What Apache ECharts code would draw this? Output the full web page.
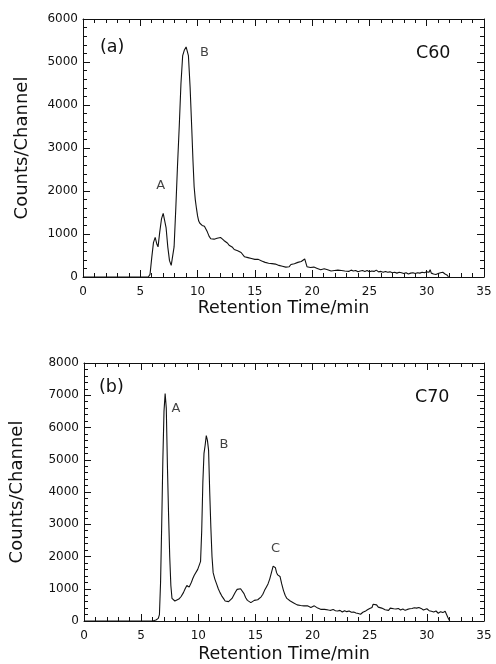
<!DOCTYPE html>
<html>
<head>
<meta charset="utf-8">
<script src="https://cdn.jsdelivr.net/npm/echarts@6/dist/echarts.min.js"></script>
<style>
html,body{margin:0;padding:0;background:#fff;}
#chart{width:496px;height:664px;}
</style>
</head>
<body>
<div id="chart"></div>
<script>
// ---- Data ----
const xTicks = [0, 5, 10, 15, 20, 25, 30, 35];
const c60Ticks = [0, 1000, 2000, 3000, 4000, 5000, 6000];
const c70Ticks = [0, 1000, 2000, 3000, 4000, 5000, 6000, 7000, 8000];

const c60Time = [0,5.7,5.85,6.0,6.15,6.3,6.45,6.55,6.7,6.85,7.0,7.1,7.25,7.4,7.55,7.7,7.8,7.95,8.1,8.25,8.4,8.55,8.7,8.85,9.0,9.1,9.2,9.35,9.5,9.6,9.7,9.8,9.9,10.0,10.1,10.2,10.3,10.4,10.5,10.6,10.7,10.85,11.0,11.15,11.3,11.45,11.55,11.7,11.85,12.0,12.15,12.3,12.45,12.6,12.75,12.9,13.05,13.2,13.35,13.5,13.65,13.8,13.95,14.1,14.25,14.4,14.55,14.7,14.85,15.0,15.15,15.3,15.45,15.6,15.75,15.9,16.05,16.2,16.35,16.5,16.65,16.8,16.95,17.1,17.25,17.4,17.55,17.7,17.85,18.0,18.15,18.3,18.45,18.6,18.75,18.9,19.05,19.2,19.35,19.45,19.55,19.7,19.85,20.0,20.15,20.3,20.45,20.6,20.75,20.9,21.05,21.2,21.35,21.5,21.65,21.8,21.95,22.1,22.25,22.4,22.55,22.7,22.85,23.0,23.2,23.4,23.6,23.8,24.0,24.2,24.4,24.6,24.8,25.0,25.2,25.4,25.6,25.8,26.0,26.2,26.4,26.6,26.8,27.0,27.2,27.4,27.6,27.8,28.0,28.2,28.4,28.6,28.8,29.0,29.2,29.4,29.6,29.8,30.0,30.2,30.3,30.4,30.6,30.8,31.0,31.2,31.4,31.6,31.8,31.9];
const c60Counts = [0,0,60,450,800,920,760,700,1050,1350,1480,1450,1150,700,380,270,290,700,1600,2600,3500,4500,5150,5280,5350,5320,5150,4400,3400,2700,2100,1800,1600,1420,1300,1250,1270,1200,1170,1180,1130,1050,950,890,870,880,850,900,920,920,900,850,810,790,740,720,690,640,650,610,600,570,540,470,480,450,460,430,440,410,400,410,380,370,350,340,330,320,300,310,350,300,290,270,260,250,240,230,230,240,290,320,310,350,340,370,360,380,420,400,240,230,220,210,230,190,200,210,170,180,190,160,170,150,140,160,150,170,160,180,150,170,140,160,130,160,140,150,120,140,150,130,150,120,140,130,160,120,130,110,130,110,120,100,110,90,110,100,80,100,70,90,100,80,100,90,110,100,120,110,170,90,70,60,80,100,110,70,40,0];

const c70Time = [0,6.0,6.3,6.5,6.6,6.7,6.8,6.9,7.0,7.1,7.2,7.3,7.4,7.5,7.6,7.7,7.8,7.95,8.1,8.3,8.5,8.7,8.85,9.0,9.1,9.2,9.3,9.4,9.5,9.65,9.8,9.95,10.1,10.2,10.3,10.4,10.5,10.6,10.7,10.8,10.9,11.0,11.1,11.2,11.3,11.45,11.6,11.75,11.9,12.05,12.2,12.35,12.5,12.65,12.8,12.95,13.1,13.25,13.4,13.55,13.7,13.85,14.0,14.15,14.3,14.45,14.6,14.75,14.9,15.05,15.2,15.35,15.5,15.65,15.8,15.95,16.1,16.25,16.4,16.55,16.65,16.75,16.85,16.95,17.05,17.15,17.3,17.45,17.6,17.75,17.9,18.05,18.2,18.35,18.5,18.65,18.8,18.95,19.1,19.25,19.4,19.55,19.7,19.85,20.0,20.15,20.3,20.45,20.6,20.75,20.9,21.05,21.2,21.4,21.6,21.8,22.0,22.2,22.4,22.6,22.8,23.0,23.2,23.4,23.6,23.8,24.0,24.2,24.4,24.6,24.8,25.0,25.2,25.3,25.45,25.6,25.75,25.9,26.05,26.2,26.35,26.5,26.65,26.8,26.95,27.1,27.3,27.5,27.7,27.9,28.1,28.3,28.5,28.7,28.9,29.1,29.3,29.5,29.7,29.85,30.0,30.2,30.4,30.6,30.8,31.0,31.2,31.4,31.6,31.75,31.85,32.0];
const c70Counts = [0,0,30,80,200,1200,3000,5000,6500,7050,6600,4800,3300,2000,1100,700,640,620,630,680,760,880,1000,1100,1150,1050,1000,1200,1300,1420,1470,1600,1750,1850,2800,4300,5200,5450,5750,5600,5300,4000,2900,2000,1500,1300,1150,1000,880,780,700,620,590,600,640,700,800,900,980,1020,1000,960,850,720,640,580,570,590,640,680,660,710,750,830,950,1050,1150,1300,1500,1700,1740,1650,1500,1430,1430,1380,1150,950,800,700,640,620,580,560,530,500,470,480,450,470,450,470,480,420,440,470,410,400,390,360,380,360,370,340,330,360,320,310,330,280,320,290,310,270,280,250,230,210,270,300,350,390,420,520,460,500,430,470,400,440,350,380,330,400,360,380,370,390,340,370,330,360,380,390,410,400,420,390,340,300,380,320,300,280,310,240,290,260,300,250,100,0];

const c60Peaks = ['A', 'B'];
const c60PeakPos = [[6.78, 2120], [10.6, 5220]];
const c70Peaks = ['A', 'B', 'C'];
const c70PeakPos = [[8.05, 6590], [12.25, 5460], [16.75, 2250]];

// ---- Chart ----
const FONT = 'DejaVu Sans';
const INK = '#111';
const zip = (a, b) => a.map((v, i) => [v, b[i]]);
const plain = v => String(v);

function frameAxis(gridIndex, min, max, interval, position) {
  return {
    type: 'value', gridIndex: gridIndex, min: min, max: max, interval: interval, position: position,
    axisLine: { show: true, onZero: false, lineStyle: { color: INK, width: 1 } },
    axisTick: { show: true, inside: true, length: 7, lineStyle: { color: INK, width: 1 } },
    minorTick: { show: true, splitNumber: 5, length: 4, lineStyle: { color: INK, width: 1 } },
    splitLine: { show: false },
    minorSplitLine: { show: false }
  };
}
function xAxisPair(gridIndex, gap) {
  const lo = xTicks[0], hi = xTicks[xTicks.length - 1];
  const bottom = frameAxis(gridIndex, lo, hi, 5, 'bottom');
  bottom.name = 'Retention Time/min';
  bottom.nameLocation = 'middle';
  bottom.nameGap = gap;
  bottom.nameTextStyle = { fontFamily: FONT, fontSize: 17.5, color: INK };
  bottom.axisLabel = { show: true, margin: 9, fontFamily: FONT, fontSize: 12, color: INK, formatter: plain };
  const top = frameAxis(gridIndex, lo, hi, 5, 'top');
  top.axisLabel = { show: false };
  return [bottom, top];
}
function yAxisPair(gridIndex, ticks, gap) {
  const lo = ticks[0], hi = ticks[ticks.length - 1];
  const left = frameAxis(gridIndex, lo, hi, 1000, 'left');
  left.name = 'Counts/Channel';
  left.nameLocation = 'middle';
  left.nameGap = gap;
  left.nameTextStyle = { fontFamily: FONT, fontSize: 18, color: INK };
  left.axisLabel = { show: true, margin: 5, fontFamily: FONT, fontSize: 12, color: INK, formatter: plain };
  const right = frameAxis(gridIndex, lo, hi, 1000, 'right');
  right.axisLabel = { show: false };
  return [left, right];
}

const peakLabel = (names, pos, xi, yi) => ({
  type: 'scatter', xAxisIndex: xi, yAxisIndex: yi, symbolSize: 0, silent: true, z: 5,
  data: pos.map((p, i) => ({ value: p, name: names[i] })),
  label: { show: true, position: 'inside', formatter: '{b}', fontFamily: FONT, fontSize: 13, color: INK }
});

const option = {
  animation: false,
  backgroundColor: '#fff',
  grid: [
    { left: 83, width: 401, top: 19, height: 258 },
    { left: 83, width: 401, top: 363, height: 258 }
  ],
  xAxis: [...xAxisPair(0, 22), ...xAxisPair(1, 24)],
  yAxis: [...yAxisPair(0, c60Ticks, 52), ...yAxisPair(1, c70Ticks, 58)],
  series: [
    { type: 'line', name: 'C60', xAxisIndex: 0, yAxisIndex: 0, data: zip(c60Time, c60Counts),
      showSymbol: false, lineStyle: { color: INK, width: 1.1 }, itemStyle: { color: INK } },
    { type: 'line', name: 'C70', xAxisIndex: 2, yAxisIndex: 2, data: zip(c70Time, c70Counts),
      showSymbol: false, lineStyle: { color: INK, width: 1.1 }, itemStyle: { color: INK } },
    peakLabel(c60Peaks, c60PeakPos, 0, 0),
    peakLabel(c70Peaks, c70PeakPos, 2, 2)
  ],
  graphic: [
    { type: 'text', left: 100, top: 38, style: { text: '(a)', fontFamily: FONT, fontSize: 17.5, fill: INK } },
    { type: 'text', left: 416, top: 44, style: { text: 'C60', fontFamily: FONT, fontSize: 17.5, fill: INK } },
    { type: 'text', left: 99, top: 378, style: { text: '(b)', fontFamily: FONT, fontSize: 17.5, fill: INK } },
    { type: 'text', left: 415, top: 388, style: { text: 'C70', fontFamily: FONT, fontSize: 17.5, fill: INK } }
  ]
};

const chart = echarts.init(document.getElementById('chart'), null, { renderer: 'canvas' });
chart.setOption(option);
</script>
</body>
</html>
